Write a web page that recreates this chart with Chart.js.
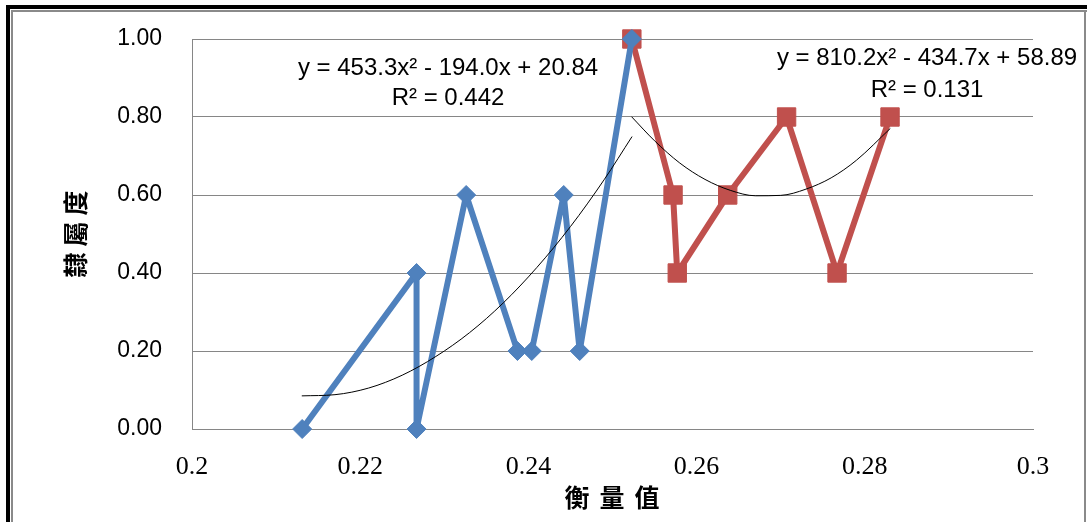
<!DOCTYPE html>
<html>
<head>
<meta charset="utf-8">
<script src="https://cdn.jsdelivr.net/npm/chart.js@4/dist/chart.umd.min.js"></script>
<style>
  html, body { margin: 0; padding: 0; background: #fff; }
  #wrap { width: 1087px; height: 522px; position: relative; }
</style>
</head>
<body>
<div id="wrap"><canvas id="chart" width="1087" height="522"></canvas></div>
<script>
// membership values
const blueX = [0.2131, 0.2267, 0.2267, 0.2326, 0.2387, 0.2404, 0.2442, 0.2461, 0.2523];
const blueY = [0.00, 0.40, 0.00, 0.60, 0.20, 0.20, 0.60, 0.20, 1.00];
const redX = [0.2523, 0.2572, 0.2577, 0.2637, 0.2707, 0.2767, 0.2830];
const redY = [1.00, 0.60, 0.40, 0.60, 0.80, 0.40, 0.80];

// polynomial trend curves
const blueTrendX = [0.2131, 0.217, 0.221, 0.225, 0.229, 0.233, 0.237, 0.241, 0.245, 0.249, 0.2523];
const blueTrendY = [0.085, 0.088, 0.105, 0.138, 0.186, 0.247, 0.323, 0.414, 0.519, 0.639, 0.749];
const redTrendX = [0.2523, 0.255, 0.258, 0.261, 0.264, 0.267, 0.270, 0.273, 0.276, 0.279, 0.2830];
const redTrendY = [0.800, 0.739, 0.682, 0.640, 0.612, 0.598, 0.599, 0.615, 0.644, 0.689, 0.770];

const xTickLabels = ['0.2', '0.22', '0.24', '0.26', '0.28', '0.3'];
const yTickLabels = ['0.00', '0.20', '0.40', '0.60', '0.80', '1.00'];

const blueEq = ['y = 453.3x\u00b2 - 194.0x + 20.84', 'R\u00b2 = 0.442'];
const redEq = ['y = 810.2x\u00b2 - 434.7x + 58.89', 'R\u00b2 = 0.131'];
const xTitle = '衡量值';
const yTitle = '隸屬度';

function pts(xs, ys) {
  let out = [];
  for (let i = 0; i < xs.length; i++) out.push({x: xs[i], y: ys[i]});
  return out;
}

const GRID = '#868686';

// outer frame + equations + axis titles
const decor = {
  id: 'decor',
  beforeDraw(chart) {
    const ctx = chart.ctx;
    ctx.save();
    ctx.fillStyle = '#fff';
    ctx.fillRect(0, 0, chart.width, chart.height);
    ctx.fillStyle = '#000';
    ctx.fillRect(6, 5, chart.width - 6, 4);
    ctx.fillRect(6, 5, 4, chart.height - 5);
    ctx.fillStyle = '#8a8a8a';
    ctx.fillRect(11, 10, chart.width - 11, 2);
    ctx.fillRect(11, 10, 2, chart.height - 10);
    ctx.fillRect(1084, 10, 2, chart.height - 10);
    ctx.restore();
  },
  afterDraw(chart) {
    const ctx = chart.ctx;
    ctx.save();
    ctx.fillStyle = '#000';
    ctx.textAlign = 'center';
    ctx.textBaseline = 'middle';
    ctx.font = '24px "Liberation Sans", Arial, sans-serif';
    ctx.fillText(blueEq[0], 448, 68);
    ctx.fillText(blueEq[1], 448, 98);
    ctx.fillText(redEq[0], 927, 58);
    ctx.fillText(redEq[1], 927, 90);

    ctx.font = 'bold 25px "Noto Sans CJK TC", sans-serif';
    ctx.letterSpacing = '10px';
    ctx.fillText(xTitle, 617, 497);
    ctx.translate(75, 234);
    ctx.rotate(-Math.PI / 2);
    ctx.letterSpacing = '6px';
    ctx.fillText(yTitle, 3, 0);
    ctx.restore();
  }
};

const lineBase = { showLine: true, clip: false, borderJoinStyle: 'round', borderCapStyle: 'round' };

new Chart(document.getElementById('chart'), {
  type: 'scatter',
  data: {
    datasets: [
      Object.assign({
        label: 'trend1', data: pts(blueTrendX, blueTrendY),
        borderColor: '#000', borderWidth: 1, pointRadius: 0,
        cubicInterpolationMode: 'monotone'
      }, lineBase),
      Object.assign({
        label: 'trend2', data: pts(redTrendX, redTrendY),
        borderColor: '#000', borderWidth: 1, pointRadius: 0,
        cubicInterpolationMode: 'monotone'
      }, lineBase),
      Object.assign({
        label: 'blue', data: pts(blueX, blueY),
        borderColor: '#4F81BD', backgroundColor: '#4F81BD', borderWidth: 6,
        pointStyle: 'rectRot', pointRadius: 9.5, pointBorderWidth: 1,
        pointBorderColor: '#4F81BD', pointBackgroundColor: '#4F81BD'
      }, lineBase),
      Object.assign({
        label: 'red', data: pts(redX, redY),
        borderColor: '#C0504D', backgroundColor: '#C0504D', borderWidth: 6,
        pointStyle: 'rect', pointRadius: 13, pointBorderWidth: 1,
        pointBorderColor: '#C0504D', pointBackgroundColor: '#C0504D'
      }, lineBase)
    ]
  },
  options: {
    responsive: false,
    devicePixelRatio: 1,
    animation: false,
    layout: { padding: { left: 0, top: 39, right: 54, bottom: 0 } },
    plugins: { legend: { display: false }, tooltip: { enabled: false } },
    scales: {
      x: {
        type: 'linear', min: 0.2, max: 0.3,
        afterFit: s => { s.height = 93; },
        grid: { display: false, drawTicks: false },
        border: { display: true, color: GRID, width: 1 },
        ticks: {
          stepSize: 0.02, padding: 23, color: '#000',
          font: { family: '"Liberation Serif", "Times New Roman", serif', size: 26 },
          callback: (v, i) => xTickLabels[i]
        }
      },
      y: {
        type: 'linear', min: 0, max: 1,
        afterFit: s => { s.width = 192; s.paddingTop = 0; s.paddingBottom = 0; },
        grid: { color: GRID, lineWidth: 1, drawTicks: false },
        border: { display: true, color: GRID, width: 1 },
        ticks: {
          stepSize: 0.2, padding: 30, color: '#000',
          font: { family: '"Liberation Sans", Arial, sans-serif', size: 23 },
          callback: (v, i) => yTickLabels[i]
        }
      }
    }
  },
  plugins: [decor]
});
</script>
</body>
</html>
